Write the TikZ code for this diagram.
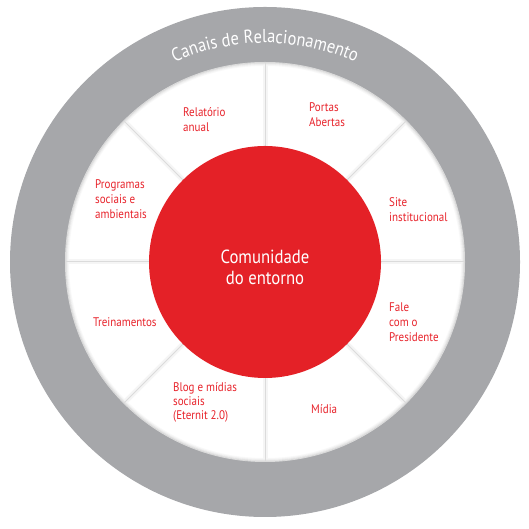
\documentclass[tikz,border=0pt]{standalone}
\usepackage{fontspec}
\setmainfont{PT Sans}[FakeStretch=0.88]
\usetikzlibrary{decorations.text}
\definecolor{ringgray}{RGB}{166,167,170}
\definecolor{discred}{RGB}{228,33,39}
\definecolor{labelred}{RGB}{232,35,43}
\begin{document}
\begin{tikzpicture}[x=1pt,y=1pt,
  lbl/.style={anchor=base west, align=left, text=labelred, font=\fontsize{12.5}{15}\selectfont, inner sep=0pt},
  centertext/.style={anchor=base, text=white, font=\fontsize{19}{19}\selectfont, inner sep=0pt},
  dividersoft/.style={black!4, line width=5pt},
  dividerline/.style={black!14, line width=1pt}]
\useasboundingbox (0,0) rectangle (529,529);
\coordinate (c) at (265,267);
\node[circle, fill=ringgray, minimum size=510pt, inner sep=0pt] (ring) at (c) {};
\node[circle, fill=white, minimum size=400pt, inner sep=0pt] (disc) at (c) {};
\foreach \r/\o in {199.5/0.14, 198.5/0.09, 197.5/0.05, 196.5/0.025}
  \draw[black, opacity=\o, line width=1pt] (c) circle[radius=\r];
\foreach \a in {0,45,...,315} {
  \draw[dividersoft, shift={(c)}] (\a:116) -- (\a:197);
  \draw[dividerline, shift={(c)}] (\a:116) -- (\a:199);
}
\node[circle, fill=discred, minimum size=232pt, inner sep=0pt] (core) at (c) {};
\node[centertext] (t1) at (265,265) {Comunidade};
\node[centertext] (t2) at (265,244) {do entorno};
\path[decorate, decoration={text along path,
   text={|\fontsize{18.7}{18.7}\selectfont\color{white}|Canais de Relacionamento},
   text align=center}]
   (c) ++(150:219) arc[start angle=150, end angle=30, radius=219];
\node[lbl] (l1) at (183,397) {Relatório\\anual};
\node[lbl] (l2) at (309,402) {Portas\\Abertas};
\node[lbl] (l3) at (389,307) {Site\\institucional};
\node[lbl] (l4) at (389,187) {Fale\\com o\\Presidente};
\node[lbl] (l5) at (311,115) {Mídia};
\node[lbl, font=\fontsize{12.5}{14}\selectfont] (l6) at (173,109) {Blog e mídias\\sociais\\(Eternit 2.0)};
\node[lbl] (l7) at (93,202) {Treinamentos};
\node[lbl] (l8) at (95,310) {Programas\\sociais e\\ambientais};
\end{tikzpicture}
\end{document}
